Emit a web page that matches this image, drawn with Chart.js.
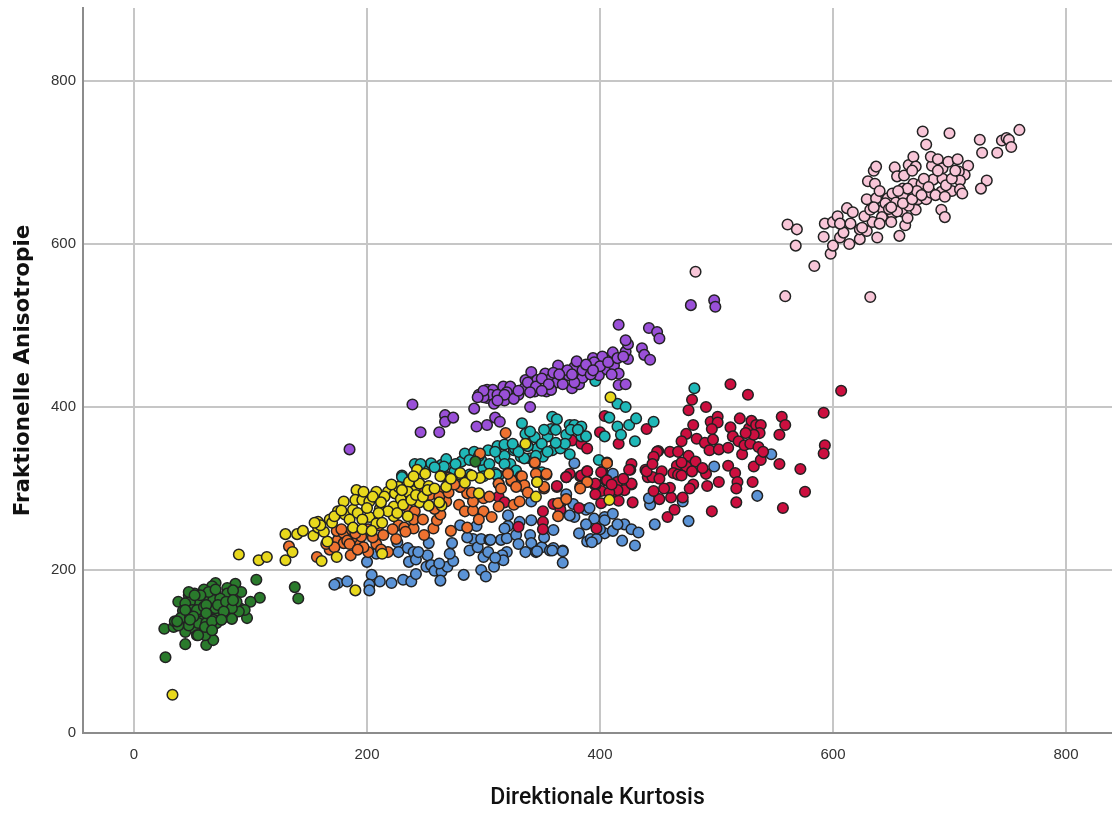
<!DOCTYPE html>
<html>
<head>
<meta charset="utf-8">
<title>Direktionale Kurtosis</title>
<script src="https://cdn.jsdelivr.net/npm/chart.js@4/dist/chart.umd.js"></script>
<style>
  body { margin: 0; background: #fff; }
  canvas { display: block; filter: blur(0.45px); }
</style>
</head>
<body>
<canvas id="chart" width="1112" height="817"></canvas>
<script>
const xTicks = [0, 200, 400, 600, 800];
const yTicks = [0, 200, 400, 600, 800];
const xTitle = 'Direktionale Kurtosis';
const yTitle = 'Fraktionelle Anisotropie';

// values, [kurtosis, anisotropie]
const bluePoints = [[175,184],[172,182],[183,186],[204,194],[202,182],[202,175],[211,186],[221,184],[231,188],[238,186],[242,195],[226,234],[227,222],[235,227],[240,222],[236,210],[242,213],[253,233],[252,218],[251,204],[255,206],[258,199],[264,198],[263,187],[269,204],[274,211],[271,220],[273,233],[283,194],[280,255],[294,254],[288,224],[291,238],[295,228],[298,238],[305,237],[300,216],[304,222],[298,200],[302,192],[309,204],[315,237],[320,239],[320,222],[316,218],[317,212],[321,267],[321,254],[328,243],[340,243],[341,261],[341,233],[336,222],[345,222],[350,228],[357,224],[341,284],[200,210],[208,220],[378,331],[411,318],[371,293],[377,281],[388,274],[378,265],[360,249],[382,245],[395,263],[404,265],[411,269],[421,256],[427,250],[433,246],[404,245],[411,248],[389,235],[392,238],[397,238],[419,236],[430,230],[368,224],[360,227],[447,256],[476,260],[443,280],[442,288],[471,284],[535,291],[498,327],[547,342],[368,223],[368,209],[359,224],[346,223],[331,259],[318,251],[306,237],[374,267],[391,276],[404,261],[393,234],[244,222],[262,208],[286,240],[310,215],[330,232],[352,240],[400,250],[388,256],[415,256]];
const redPoints = [[512,428],[527,415],[607,420],[479,409],[476,396],[491,400],[592,393],[556,388],[559,378],[520,386],[480,378],[474,367],[483,361],[490,356],[497,360],[494,347],[502,348],[495,382],[501,388],[501,381],[496,373],[512,375],[514,364],[519,358],[522,342],[524,353],[529,355],[536,351],[528,374],[530,383],[534,378],[538,378],[537,368],[532,366],[554,366],[554,330],[572,324],[576,296],[557,276],[593,353],[592,343],[440,373],[416,355],[400,369],[404,389],[376,359],[384,355],[389,349],[450,346],[446,338],[460,345],[467,345],[476,340],[482,333],[427,330],[426,323],[439,323],[441,314],[445,314],[453,321],[451,312],[466,328],[463,319],[467,317],[474,327],[479,321],[491,318],[492,303],[480,305],[477,300],[502,308],[510,328],[516,319],[518,308],[517,300],[517,283],[531,308],[532,327],[538,335],[496,272],[458,265],[464,274],[471,289],[461,289],[460,301],[451,287],[446,297],[428,283],[427,305],[421,298],[415,308],[413,296],[416,285],[401,282],[401,297],[396,304],[405,310],[402,321],[389,321],[383,315],[374,318],[371,314],[363,302],[382,276],[366,282],[360,281],[397,251],[366,274],[313,290],[318,283],[330,253],[351,272],[351,259],[351,250],[363,303],[371,314],[384,316],[389,321],[401,320],[396,306],[406,310],[415,308],[425,323],[427,306],[440,321],[449,345],[446,339],[415,298],[408,295],[420,312],[410,305],[396,293],[470,316],[455,300],[445,330],[470,358],[510,350],[525,368],[470,332],[488,325],[540,345]];
const tealPoints = [[241,330],[249,325],[255,331],[264,329],[268,336],[230,316],[266,327],[281,333],[284,343],[292,345],[287,316],[300,326],[304,347],[312,352],[318,354],[314,337],[310,319],[313,316],[323,330],[326,347],[333,380],[336,367],[332,339],[340,337],[344,363],[346,349],[355,364],[351,339],[359,347],[359,388],[363,385],[358,373],[371,366],[366,349],[374,342],[374,378],[378,378],[384,376],[384,364],[388,364],[396,432],[415,404],[422,400],[408,387],[415,376],[418,366],[425,378],[431,386],[404,364],[430,358],[446,382],[399,335],[350,320],[481,423],[230,314],[288,317],[275,321],[311,317],[300,325],[335,337],[327,349],[298,335],[305,330],[318,340],[330,345],[338,352],[345,340],[350,355],[355,345],[362,372],[370,355],[375,372],[352,372],[340,370],[325,355],[310,345],[296,340],[288,335],[258,326],[246,330],[276,330],[362,356],[381,372],[328,322],[300,315],[318,330]];
const orangePoints = [[133,229],[157,216],[168,225],[175,237],[174,248],[180,245],[180,233],[186,218],[187,249],[192,239],[194,231],[201,222],[201,250],[208,232],[214,243],[218,222],[227,255],[232,252],[240,251],[234,278],[241,272],[249,243],[257,251],[260,261],[263,268],[263,296],[254,292],[268,284],[269,314],[272,248],[279,280],[284,272],[291,273],[280,302],[286,294],[286,252],[300,272],[307,265],[313,306],[324,309],[332,315],[335,302],[321,319],[313,278],[326,280],[331,284],[352,300],[354,317],[344,331],[297,343],[291,284],[300,288],[195,241],[319,368],[344,332],[324,310],[333,315],[335,304],[313,306],[321,318],[354,318],[352,302],[383,302],[389,308],[406,332],[270,313],[280,302],[389,308],[383,300],[406,331],[364,282],[371,287],[364,266],[233,247],[165,232],[172,228],[183,236],[190,245],[197,228],[205,240],[212,225],[185,232],[192,225],[178,250],[210,255],[225,238],[240,262],[248,262],[258,275],[262,290],[270,295],[275,305],[290,295],[296,262],[305,290],[315,300],[328,302],[338,295],[345,318],[222,250],[235,288],[246,300]];
const purplePoints = [[185,348],[239,403],[246,369],[262,369],[267,390],[267,382],[274,387],[292,398],[294,376],[303,378],[310,387],[314,382],[340,400],[296,415],[303,421],[303,411],[308,421],[306,415],[309,404],[317,425],[318,408],[322,417],[323,425],[330,415],[336,433],[335,423],[341,443],[346,433],[344,419],[354,419],[353,441],[358,435],[363,430],[358,421],[364,451],[367,438],[373,439],[376,423],[378,449],[380,456],[382,428],[385,436],[390,449],[394,460],[402,462],[399,439],[406,446],[412,451],[411,467],[416,441],[416,427],[422,428],[424,459],[422,468],[424,477],[422,482],[416,501],[436,472],[438,464],[443,458],[442,497],[449,492],[451,484],[478,525],[498,531],[499,523],[300,412],[312,415],[320,418],[326,410],[338,430],[345,425],[350,435],[356,428],[350,420],[360,442],[368,428],[372,445],[378,430],[385,445],[392,440],[395,455],[400,450],[407,455],[415,460],[420,462],[410,440],[318,415],[312,408],[330,420],[340,418],[365,440],[376,440],[388,452],[394,445],[300,420],[295,412]];
const greenPoints = [[27,93],[44,109],[62,108],[68,114],[26,128],[34,130],[38,161],[105,188],[108,166],[97,141],[100,161],[87,183],[92,173],[138,179],[141,165],[70,184],[67,180],[80,178],[60,176],[52,171],[47,169],[70,173],[80,171],[62,165],[56,161],[48,161],[44,159],[85,163],[79,159],[72,155],[62,154],[42,150],[50,151],[56,145],[62,145],[72,145],[83,152],[91,153],[95,151],[84,141],[75,139],[68,139],[58,137],[42,131],[52,128],[66,126],[44,124],[35,137],[40,141],[54,120],[61,120],[68,132],[48,141],[55,135],[62,135],[90,149],[68,163],[74,165],[64,173],[57,169],[44,151],[78,147],[88,161],[54,151],[60,155],[47,132],[71,135],[38,132],[70,153],[85,175],[51,143],[293,333],[62,157],[72,157],[79,161],[84,153],[62,147],[47,173],[70,176],[85,163],[55,120],[61,130],[67,137],[77,149],[48,139],[37,137],[84,140],[75,139],[67,126],[52,169]];
const pinkPoints = [[482,566],[559,536],[632,535],[584,573],[598,588],[600,598],[568,598],[614,600],[592,609],[606,608],[609,614],[623,606],[638,608],[657,610],[561,624],[569,618],[593,625],[600,627],[604,634],[606,625],[612,644],[617,639],[623,618],[629,616],[634,627],[627,634],[632,642],[629,655],[637,656],[630,677],[636,674],[635,690],[637,695],[643,642],[642,633],[647,656],[651,662],[654,651],[651,637],[650,627],[659,640],[662,623],[664,632],[671,642],[665,647],[673,655],[680,655],[660,668],[660,660],[653,694],[655,683],[661,684],[665,697],[669,707],[671,695],[669,674],[676,674],[684,663],[686,679],[685,696],[684,707],[680,722],[677,738],[690,704],[694,693],[694,680],[693,664],[699,701],[700,736],[707,704],[716,696],[713,685],[708,689],[709,678],[702,665],[709,667],[711,662],[693,642],[696,633],[726,728],[728,712],[741,712],[732,678],[727,668],[745,727],[749,730],[751,728],[753,719],[760,740],[645,650],[640,665],[648,643],[655,640],[660,650],[668,655],[672,665],[678,680],[682,670],[688,660],[690,690],[697,672],[702,680],[705,690],[664,668],[656,665],[625,620],[615,625],[640,625],[650,645],[635,645],[676,660],[668,690],[696,658]];
const yellowPoints = [[130,244],[130,212],[136,222],[140,244],[145,248],[154,242],[158,259],[161,211],[168,262],[166,235],[174,216],[175,272],[180,284],[181,268],[188,274],[191,298],[190,286],[196,286],[197,296],[202,265],[208,296],[211,275],[208,257],[213,220],[218,296],[223,278],[224,294],[223,266],[227,302],[229,287],[236,308],[241,297],[235,266],[245,306],[245,283],[243,323],[253,279],[253,303],[264,279],[264,315],[280,317],[284,307],[297,313],[296,294],[346,308],[345,290],[336,355],[190,175],[202,284],[215,290],[235,296],[90,219],[107,212],[114,216],[33,47],[409,412],[346,308],[280,319],[263,315],[408,286],[158,252],[163,247],[170,258],[172,266],[178,273],[185,262],[192,270],[196,262],[200,276],[205,290],[212,283],[218,272],[226,270],[231,280],[238,286],[242,292],[248,290],[252,298],[258,300],[262,283],[268,302],[230,298],[221,305],[210,270],[188,252],[196,250],[204,248],[213,258],[160,255],[155,258],[240,315],[250,318],[272,312],[290,316],[305,318]];

// chart.js paints the first dataset last, so yellow goes first to sit on top
const series = [
  { label: 'yellow', points: yellowPoints, color: '#e8d81c' },
  { label: 'pink', points: pinkPoints, color: '#f8c6d8' },
  { label: 'green', points: greenPoints, color: '#2a7a2c' },
  { label: 'purple', points: purplePoints, color: '#9a50d8' },
  { label: 'orange', points: orangePoints, color: '#ee7230' },
  { label: 'teal', points: tealPoints, color: '#1fb8b8' },
  { label: 'red', points: redPoints, color: '#cc0f3f' },
  { label: 'blue', points: bluePoints, color: '#5b93d6' }
];

new Chart(document.getElementById('chart'), {
  type: 'scatter',
  data: {
    datasets: series.map(s => ({
      label: s.label,
      data: s.points.map(p => ({ x: p[0], y: p[1] })),
      backgroundColor: s.color,
      borderColor: '#222',
      borderWidth: 1.5,
      pointRadius: 5.3
    }))
  },
  options: {
    responsive: false,
    animation: false,
    layout: { autoPadding: false, padding: { top: 8, right: 0, left: 0, bottom: 0 } },
    plugins: { legend: { display: false }, tooltip: { enabled: false } },
    scales: {
      x: {
        type: 'linear',
        min: -43.8,
        max: 839.5,
        afterFit: s => { s.height = 84; s.paddingLeft = 0; s.paddingRight = 0; },
        afterBuildTicks: s => { s.ticks = xTicks.map(v => ({ value: v })); },
        grid: { color: '#c6c6c6', lineWidth: 2, drawTicks: false },
        border: { color: '#8c8c8c', width: 2 },
        ticks: {
          color: '#333',
          padding: 13,
          maxRotation: 0,
          font: { family: '"Liberation Sans"', size: 15 }
        },
        title: {
          display: true,
          text: xTitle,
          color: '#111',
          padding: { top: 0, bottom: 5 },
          font: { family: 'Roboto', size: 23, weight: '500' }
        }
      },
      y: {
        min: 0,
        max: 889.6,
        afterFit: s => { s.width = 83; s.paddingTop = 0; s.paddingBottom = 0; },
        afterBuildTicks: s => { s.ticks = yTicks.map(v => ({ value: v })); },
        grid: { color: '#c6c6c6', lineWidth: 2, drawTicks: false },
        border: { color: '#8c8c8c', width: 2 },
        ticks: {
          color: '#333',
          padding: 7,
          font: { family: '"Liberation Sans"', size: 15 }
        },
        title: {
          display: true,
          text: yTitle,
          color: '#111',
          padding: { top: 11, bottom: 0 },
          font: { family: '"DejaVu Sans"', size: 21.5, weight: 'bold' }
        }
      }
    }
  }
});
</script>
</body>
</html>
